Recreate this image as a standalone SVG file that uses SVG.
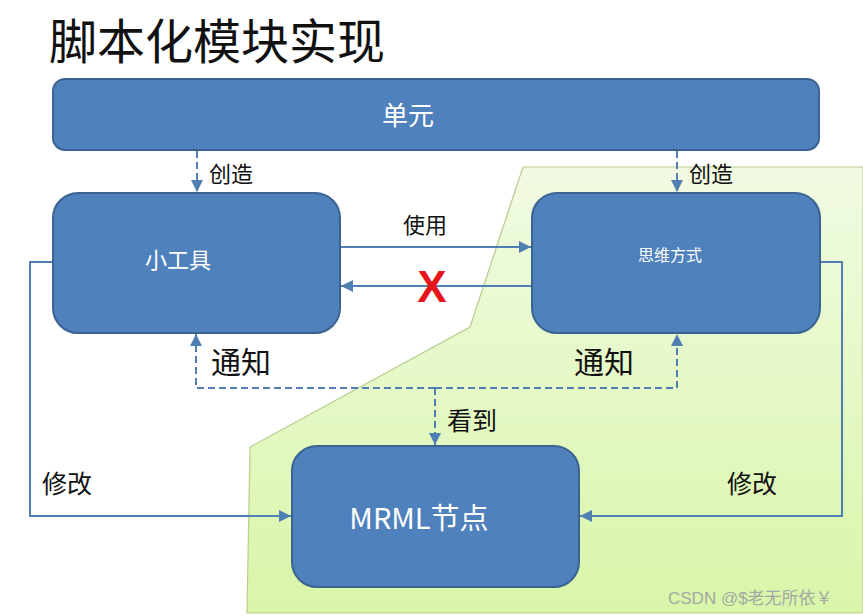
<svg xmlns="http://www.w3.org/2000/svg" width="863" height="616" viewBox="0 0 863 616">
<style>
.box{fill:#4f81bd;stroke:#3b6391;stroke-width:2}
.wt{fill:#ffffff;font-family:"Noto Sans CJK SC","Liberation Sans",sans-serif;text-anchor:middle}
.lbl{fill:#111111;font-family:"Noto Sans CJK SC","Liberation Sans",sans-serif}
.ln{fill:none;stroke:#4f7fb3;stroke-width:2}
.dash{fill:none;stroke:#4f7fb3;stroke-width:2;stroke-dasharray:7 4}
</style>
<defs>
<linearGradient id="g" x1="0" y1="0" x2="0" y2="1">
<stop offset="0" stop-color="#f1fbe3"/>
<stop offset="1" stop-color="#d8f6a8"/>
</linearGradient>
<marker id="ah" viewBox="0 0 10 10" refX="10" refY="5" markerWidth="6" markerHeight="6" orient="auto" markerUnits="strokeWidth">
<path d="M0,0 L10,5 L0,10 Z" fill="#4f7fb3"/>
</marker>
</defs>
<rect width="863" height="616" fill="#ffffff"/>
<polygon points="523,167 863,167 863,613 247,613 250,447 470,327" fill="url(#g)" stroke="#b9cc8e" stroke-width="1.2"/>
<text x="49" y="59" font-family="Noto Sans CJK SC,sans-serif" font-size="48" fill="#111111">脚本化模块实现</text>

<g id="connectors">
<line class="dash" x1="197" y1="151" x2="197" y2="192" marker-end="url(#ah)"/>
<line class="dash" x1="677" y1="151" x2="677" y2="192" marker-end="url(#ah)"/>
<line class="ln" x1="341" y1="247" x2="531" y2="247" marker-end="url(#ah)"/>
<line class="ln" x1="531" y1="286" x2="341" y2="286" marker-end="url(#ah)"/>
<polyline class="dash" points="435,388 196,388 196,334" marker-end="url(#ah)"/>
<polyline class="dash" points="435,388 677,388 677,334" marker-end="url(#ah)"/>
<line class="dash" x1="435" y1="388" x2="435" y2="445" marker-end="url(#ah)"/>
<polyline class="ln" points="53,262 30,262 30,516 291,516" marker-end="url(#ah)"/>
<polyline class="ln" points="820,262 842,262 842,516 580,516" marker-end="url(#ah)"/>
<text class="lbl" x="209" y="182" font-size="22">创造</text>
<text class="lbl" x="689" y="182" font-size="22">创造</text>
<text class="lbl" x="403" y="233" font-size="22">使用</text>
<text x="432" y="302" font-family="Liberation Sans,sans-serif" font-weight="bold" font-size="44" fill="#e5151c" text-anchor="middle">X</text>
<text class="lbl" x="211" y="373" font-size="30">通知</text>
<text class="lbl" x="574" y="373" font-size="30">通知</text>
<text class="lbl" x="447" y="430" font-size="25">看到</text>
<text class="lbl" x="42" y="493" font-size="25">修改</text>
<text class="lbl" x="727" y="493" font-size="25">修改</text>
</g>

<g id="unit">
<rect class="box" x="53" y="79" width="766" height="71" rx="12"/>
<text class="wt" x="408" y="125" font-size="26">单元</text>
</g>
<g id="gadget">
<rect class="box" x="53" y="193" width="287" height="140" rx="25"/>
<text class="wt" x="178" y="268" font-size="22">小工具</text>
</g>
<g id="thinking">
<rect class="box" x="532" y="193" width="288" height="140" rx="25"/>
<text class="wt" x="670" y="261" font-size="16">思维方式</text>
</g>
<g id="mrml">
<rect class="box" x="292" y="446" width="287" height="141" rx="25"/>
<text class="wt" x="419" y="529" font-size="29">MRML节点</text>
</g>
<text x="668" y="604" font-family="Liberation Sans,Noto Sans CJK SC,sans-serif" font-size="17" fill="#a3a8a3">CSDN @$老无所依￥</text>
</svg>
